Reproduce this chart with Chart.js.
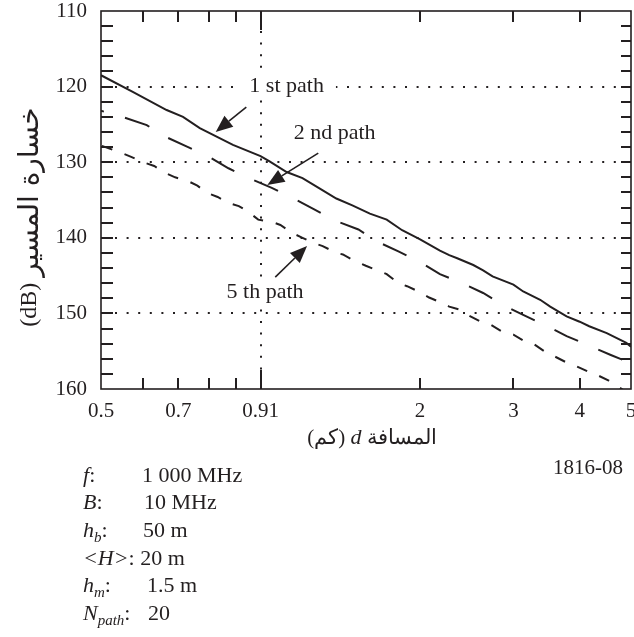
<!DOCTYPE html>
<html>
<head>
<meta charset="utf-8">
<script src="https://cdn.jsdelivr.net/npm/chart.js@4.4.1/dist/chart.umd.min.js"></script>
<style>
  html, body { margin: 0; padding: 0; background: #fff; }
  #wrap { position: relative; width: 634px; height: 637px; overflow: hidden; }
  #c { position: absolute; left: 0; top: 0; }
  .row { position: absolute; left: 0; font-family: "Liberation Serif", serif; font-size: 22px; color: #231f20; white-space: nowrap; line-height: 24px; }
  .row .k { position: absolute; left: 83px; }
  .row .v { position: absolute; }
  sub { font-size: 15px; vertical-align: -5px; line-height: 0; }
</style>
</head>
<body>
<div id="wrap">
  <canvas id="c" width="634" height="637"></canvas>
  <div class="row" style="top:463px"><span class="k"><i>f</i>:</span><span class="v" style="left:142px">1 000 MHz</span></div>
  <div class="row" style="top:490px"><span class="k"><i>B</i>:</span><span class="v" style="left:144px">10 MHz</span></div>
  <div class="row" style="top:518px"><span class="k"><i>h<sub>b</sub></i>:</span><span class="v" style="left:143px">50 m</span></div>
  <div class="row" style="top:546px"><span class="k"><i>&lt;H&gt;</i>: 20 m</span></div>
  <div class="row" style="top:573px"><span class="k"><i>h<sub>m</sub></i>:</span><span class="v" style="left:147px">1.5 m</span></div>
  <div class="row" style="top:601px"><span class="k"><i>N<sub>path</sub></i>:</span><span class="v" style="left:148px">20</span></div>
</div>
<script>
// ---- data ----
// 1st path (solid)
const dist1 = [0.5, 0.574, 0.665, 0.714, 0.768, 0.887, 1.0, 1.04, 1.12, 1.2, 1.294, 1.39, 1.49, 1.608, 1.73, 1.85, 2.0, 2.18, 2.27, 2.35, 2.52, 2.63, 2.74, 3.0, 3.13, 3.37, 3.52, 3.78, 4.0, 4.17, 4.5, 4.9, 5.0];
const loss1 = [118.5, 120.7, 123.1, 124.0, 125.5, 127.7, 129.2, 129.9, 131.3, 132.1, 133.5, 134.8, 135.7, 136.8, 137.6, 139.0, 140.2, 141.7, 142.3, 142.7, 143.6, 144.3, 145.1, 146.2, 147.1, 148.2, 149.1, 150.4, 151.1, 151.7, 152.6, 153.9, 154.4];
// 2nd path (long dashes)
const dist2 = [0.5, 0.548, 0.61, 0.66, 0.73, 0.8, 0.87, 0.95, 1.05, 1.146, 1.26, 1.38, 1.53, 1.66, 1.82, 2.0, 2.18, 2.4, 2.63, 2.87, 3.13, 3.43, 3.78, 4.15, 4.58, 5.0];
const loss2 = [123.2, 124.0, 125.1, 126.6, 128.0, 129.3, 130.8, 132.1, 133.4, 134.7, 136.2, 137.7, 138.9, 140.5, 141.8, 143.2, 144.8, 146.0, 147.3, 148.9, 150.2, 151.5, 153.0, 154.2, 155.5, 156.6];
// 5th path (short dashes)
const dist5 = [0.5, 0.548, 0.57, 0.6, 0.63, 0.66, 0.69, 0.73, 0.76, 0.79, 0.83, 0.87, 0.91, 0.95, 0.99, 1.05, 1.09, 1.15, 1.2, 1.26, 1.31, 1.39, 1.43, 1.5, 1.58, 1.66, 1.73, 1.82, 1.89, 2.0, 2.08, 2.18, 2.27, 2.4, 2.46, 2.62, 2.72, 2.87, 3.0, 3.15, 3.27, 3.43, 3.59, 3.78, 3.92, 4.15, 4.33, 4.54, 4.73, 4.85];
const loss5 = [127.8, 128.8, 129.3, 130.0, 130.5, 131.4, 132.0, 132.5, 133.1, 134.0, 134.6, 135.4, 135.8, 136.6, 137.6, 137.9, 138.3, 139.4, 140.0, 140.7, 141.1, 142.0, 142.2, 143.0, 143.7, 144.3, 144.8, 146.0, 146.4, 147.2, 147.9, 148.5, 149.1, 149.6, 150.2, 151.2, 151.5, 152.5, 152.8, 153.7, 154.0, 155.0, 155.7, 156.5, 156.9, 157.7, 158.2, 158.9, 159.7, 160.2];

// ---- axes ----
const xTickValues = [0.5, 0.7, 1, 2, 3, 4, 5];
const xTickLabels = ['0.5', '0.7', '0.91', '2', '3', '4', '5'];
const xMinorTicks = [0.6, 0.7, 0.8, 0.9, 2, 3, 4];
const xMajorTicks = [1];
const yTickValues = [110, 120, 130, 140, 150, 160];
const yMinorTicks = [112, 114, 116, 118, 120, 122, 124, 126, 128, 130, 132, 134, 136, 138, 140, 142, 144, 146, 148, 150, 152, 154, 156, 158];
const yGridValues = [120, 130, 140, 150];
const xGridValues = [1];

// ---- text ----
const yTitleUnit = '(dB)';
const yTitleText = 'خسارة المسير';
const xTitleParts = ['(كم) ', 'd', ' المسافة'];
const figId = '1816-08';
const pathNotes = [
  { text: '1 st path', tx: 1.12, ty: 120, ax0: 0.94, ay0: 122.7, ax1: 0.823, ay1: 126.0, bg: true },
  { text: '2 nd path', tx: 1.38, ty: 126.2, ax0: 1.285, ay0: 128.8, ax1: 1.03, ay1: 133.0, bg: false },
  { text: '5 th path', tx: 1.02, ty: 147.2, ax0: 1.066, ay0: 145.2, ax1: 1.224, ay1: 141.1, bg: true }
];

const INK = '#231f20';
const SERIF = '"Liberation Serif", "Times New Roman", serif';
const ARABIC = '"DejaVu Sans", "Noto Sans", sans-serif';

function pts(xs, ys) { return xs.map((x, i) => ({ x: x, y: ys[i] })); }

function arrow(ctx, x0, y0, x1, y1) {
  const ang = Math.atan2(y1 - y0, x1 - x0);
  const L = 17, W = 7;
  const bx = x1 - L * Math.cos(ang), by = y1 - L * Math.sin(ang);
  ctx.beginPath(); ctx.moveTo(x0, y0); ctx.lineTo(bx, by); ctx.stroke();
  ctx.beginPath();
  ctx.moveTo(x1, y1);
  ctx.lineTo(bx + W * Math.sin(ang), by - W * Math.cos(ang));
  ctx.lineTo(bx - W * Math.sin(ang), by + W * Math.cos(ang));
  ctx.closePath(); ctx.fill();
}

const deco = {
  id: 'deco',
  beforeDatasetsDraw(chart) {
    const { ctx, chartArea: a, scales: { x, y } } = chart;
    ctx.save();
    ctx.strokeStyle = INK; ctx.lineWidth = 2; ctx.setLineDash([2, 9.6]);
    yGridValues.forEach(v => {
      const py = Math.round(y.getPixelForValue(v));
      ctx.beginPath(); ctx.moveTo(a.left + 14, py); ctx.lineTo(a.right - 12, py); ctx.stroke();
    });
    xGridValues.forEach(v => {
      const px = Math.round(x.getPixelForValue(v));
      ctx.beginPath(); ctx.moveTo(px, a.top + 20); ctx.lineTo(px, a.bottom - 18); ctx.stroke();
    });
    ctx.restore();
  },
  afterDatasetsDraw(chart) {
    const { ctx, chartArea: a, scales: { x, y } } = chart;
    ctx.save();
    // ticks (inward) on all four sides
    ctx.strokeStyle = INK; ctx.lineWidth = 2; ctx.setLineDash([]);
    const vt = (px, len) => {
      ctx.beginPath(); ctx.moveTo(px, a.bottom); ctx.lineTo(px, a.bottom - len); ctx.stroke();
      ctx.beginPath(); ctx.moveTo(px, a.top); ctx.lineTo(px, a.top + len); ctx.stroke();
    };
    xMinorTicks.forEach(v => vt(Math.round(x.getPixelForValue(v)), 11));
    xMajorTicks.forEach(v => vt(Math.round(x.getPixelForValue(v)), 19));
    yMinorTicks.forEach(v => {
      const py = Math.round(y.getPixelForValue(v));
      ctx.beginPath(); ctx.moveTo(a.left, py); ctx.lineTo(a.left + 12, py); ctx.stroke();
      ctx.beginPath(); ctx.moveTo(a.right, py); ctx.lineTo(a.right - 10, py); ctx.stroke();
    });
    // frame
    ctx.lineWidth = 1.6;
    ctx.strokeRect(a.left, a.top, a.right - a.left, a.bottom - a.top);

    // path annotations
    ctx.font = '22px ' + SERIF;
    ctx.textAlign = 'center'; ctx.textBaseline = 'middle';
    pathNotes.forEach(n => {
      const tx = x.getPixelForValue(n.tx), ty = y.getPixelForValue(n.ty);
      if (n.bg) {
        const w = ctx.measureText(n.text).width;
        ctx.fillStyle = '#fff';
        ctx.fillRect(tx - w / 2 - 12, ty - 12, w + 24, 24);
      }
      ctx.fillStyle = INK;
      ctx.fillText(n.text, tx, ty);
      ctx.lineWidth = 1.6;
      arrow(ctx, x.getPixelForValue(n.ax0), y.getPixelForValue(n.ay0), x.getPixelForValue(n.ax1), y.getPixelForValue(n.ay1));
    });

    // y axis title: "(dB)" at the bottom, Arabic above it
    ctx.save();
    ctx.translate(30, 217);
    ctx.rotate(-Math.PI / 2);
    ctx.fillStyle = INK; ctx.textBaseline = 'middle'; ctx.textAlign = 'left';
    const fU = '24px ' + SERIF, fA = '28px ' + ARABIC;
    ctx.font = fU; const wu = ctx.measureText(yTitleUnit + ' ').width;
    ctx.font = fA; const wa = ctx.measureText(yTitleText).width;
    let s0 = -(wu + wa) / 2;
    ctx.font = fU; ctx.fillText(yTitleUnit, s0, 0);
    ctx.font = fA; ctx.fillText(yTitleText, s0 + wu, 1);
    ctx.restore();

    // x axis title (italic d)
    const fN = '21px ' + SERIF, fI = 'italic 22px ' + SERIF;
    ctx.textAlign = 'left'; ctx.textBaseline = 'middle'; ctx.fillStyle = INK;
    ctx.font = fN; const w0 = ctx.measureText(xTitleParts[0]).width, w2 = ctx.measureText(xTitleParts[2]).width;
    ctx.font = fI; const w1 = ctx.measureText(xTitleParts[1]).width;
    let sx = 372 - (w0 + w1 + w2) / 2;
    const ty = 438;
    ctx.font = fN; ctx.fillText(xTitleParts[0], sx, ty); sx += w0;
    ctx.font = fI; ctx.fillText(xTitleParts[1], sx, ty); sx += w1;
    ctx.font = fN; ctx.fillText(xTitleParts[2], sx, ty);

    // figure id
    ctx.font = '21px ' + SERIF; ctx.textAlign = 'center';
    ctx.fillText(figId, 588, 468);
    ctx.restore();
  }
};

const lineBase = { borderColor: INK, borderWidth: 2, pointRadius: 0, tension: 0, fill: false };

new Chart(document.getElementById('c'), {
  type: 'line',
  data: {
    datasets: [
      Object.assign({ label: '1 st path', data: pts(dist1, loss1) }, lineBase),
      Object.assign({ label: '2 nd path', data: pts(dist2, loss2), borderDash: [26, 22], borderDashOffset: 23 }, lineBase),
      Object.assign({ label: '5 th path', data: pts(dist5, loss5), borderDash: [11, 13], borderDashOffset: 23 }, lineBase)
    ]
  },
  options: {
    responsive: false,
    animation: false,
    devicePixelRatio: 1,
    layout: { autoPadding: false, padding: { top: 11, right: 3, bottom: 208, left: 0 } },
    plugins: { legend: { display: false }, tooltip: { enabled: false }, title: { display: false } },
    scales: {
      x: {
        type: 'logarithmic', min: 0.5, max: 5,
        grid: { display: false, drawTicks: false }, border: { display: false },
        afterBuildTicks: s => { s.ticks = xTickValues.map(v => ({ value: v })); },
        afterFit: s => { s.height = 40; s.paddingLeft = 0; s.paddingRight = 0; },
        ticks: {
          autoSkip: false, maxRotation: 0, padding: 10, color: INK,
          font: { family: SERIF, size: 21 },
          callback: v => { const i = xTickValues.indexOf(v); return i >= 0 ? xTickLabels[i] : ''; }
        }
      },
      y: {
        type: 'linear', min: 110, max: 160, reverse: true,
        grid: { display: false, drawTicks: false }, border: { display: false },
        afterBuildTicks: s => { s.ticks = yTickValues.map(v => ({ value: v })); },
        afterFit: s => { s.width = 101; s.paddingTop = 0; s.paddingBottom = 0; },
        ticks: { padding: 14, color: INK, font: { family: SERIF, size: 21 } }
      }
    }
  },
  plugins: [deco]
});
</script>
</body>
</html>
